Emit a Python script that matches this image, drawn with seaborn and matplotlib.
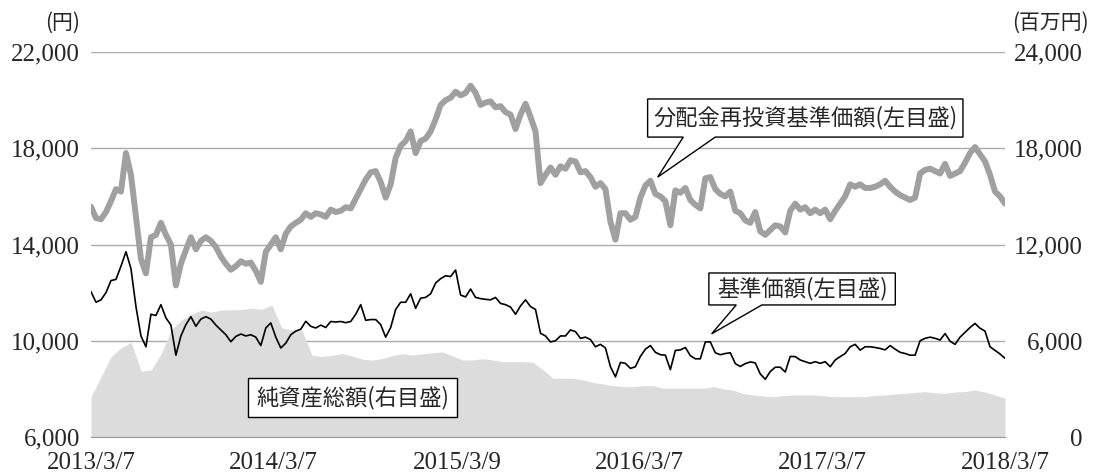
import matplotlib
matplotlib.use("Agg")
import matplotlib.pyplot as plt
from matplotlib.patches import Polygon
from matplotlib.ticker import FuncFormatter
import pandas as pd
import seaborn as sns

sns.set_style("white")
plt.rcParams["font.family"] = ["Liberation Serif", "Noto Sans CJK JP"]
JP = ["Noto Sans CJK JP", "DejaVu Sans"]

# 期間・目盛
start, end = "2013-03-07", "2018-03-07"
tick_dates = ["2013-03-07", "2014-03-07", "2015-03-09", "2016-03-07", "2017-03-07", "2018-03-07"]
tick_labels = ["2013/3/7", "2014/3/7", "2015/3/9", "2016/3/7", "2017/3/7", "2018/3/7"]
left_ticks = [6000, 10000, 14000, 18000, 22000]
right_ticks = [0, 6000, 12000, 18000, 24000]

# 分配金再投資基準価額(円) 約10日ごと
reinvest_nav = [
    15570, 15100, 15050, 15350, 15800, 16300, 16200, 17800, 16900, 15150,
    13400, 12800, 14300, 14400, 14900, 14400, 14000, 12300, 13200, 13770,
    14300, 13800, 14150, 14300, 14150, 13900, 13500, 13200, 12950, 13100,
    13300, 13200, 13250, 12900, 12450, 13700, 14000, 14300, 13800, 14450,
    14750, 14900, 15030, 15300, 15150, 15300, 15250, 15150, 15450, 15350,
    15400, 15550, 15500, 15900, 16300, 16700, 17000, 17050, 16600, 15950,
    16500, 17600, 18100, 18300, 18700, 17800, 18300, 18400, 18700, 19200,
    19800, 20000, 20100, 20350, 20200, 20300, 20600, 20300, 19800, 19900,
    19950, 19700, 19750, 19500, 19400, 18800, 19400, 19850, 19300, 18700,
    16550, 16900, 17200, 16900, 17250, 17150, 17500, 17450, 17000, 17050,
    16800, 16400, 16550, 16300, 14950, 14200, 15300, 15300, 15030, 15150,
    15950, 16450, 16650, 16100, 16000, 15800, 14800, 16250, 16150, 16350,
    15850, 15650, 15500, 16750, 16800, 16300, 16100, 16000, 16200, 15400,
    15300, 15000, 14900, 15350, 14550, 14400, 14600, 14800, 14750, 14500,
    15400, 15700, 15450, 15550, 15300, 15450, 15300, 15450, 15050, 15400,
    15700, 16000, 16500, 16400, 16500, 16350, 16350, 16400, 16500, 16650,
    16400, 16200, 16050, 15950, 15850, 15950, 16950, 17100, 17150, 17050,
    16950, 17350, 16850, 16950, 17050, 17400, 17800, 18050, 17750, 17450,
    16900, 16200, 16000, 15700,
]

# 基準価額(円)
nav = [
    12040, 11600, 11700, 12000, 12500, 12550, 13100, 13700, 13000, 11420,
    10200, 9750, 11100, 11050, 11500, 10950, 10650, 9400, 10200, 10670,
    11000, 10600, 10900, 11000, 10900, 10650, 10450, 10250, 9960, 10180,
    10280, 10200, 10250, 10150, 9800, 10530, 10740, 10150, 9700, 9900,
    10250, 10400, 10480, 10810, 10600, 10530, 10650, 10550, 10800, 10780,
    10800, 10750, 10800, 11100, 11500, 10850, 10880, 10880, 10670, 10150,
    10550, 11300, 11600, 11600, 11950, 11350, 11770, 11800, 11950, 12400,
    12580, 12700, 12670, 12940, 11900, 11820, 12150, 11800, 11750, 11720,
    11700, 11800, 11550, 11500, 11400, 11100, 11450, 11700, 11420, 11300,
    10310, 10200, 9950, 10000, 10200, 10200, 10450, 10380, 10100, 10150,
    10050, 9750, 9850, 9700, 8920, 8500, 9100, 9060, 8850, 8920,
    9350, 9650, 9800, 9520, 9420, 9400, 8800, 9600, 9620, 9720,
    9380, 9250, 9250, 9950, 9950, 9500, 9420, 9470, 9500, 9050,
    8930, 9050, 9120, 9080, 8620, 8400, 8720, 8900, 8900, 8700,
    9350, 9340, 9200, 9130, 9060, 9130, 9060, 9130, 8920, 9200,
    9340, 9470, 9750, 9850, 9610, 9750, 9750, 9720, 9680, 9620,
    9800, 9650, 9520, 9470, 9400, 9400, 10000, 10100, 10150, 10100,
    10030, 10300, 9980, 9850, 10150, 10350, 10550, 10720, 10520, 10400,
    9750, 9600, 9450, 9270,
]

# 純資産総額(百万円) 約20日ごと
net_assets = [
    2510, 3760, 5010, 5550, 5900, 4100, 4180, 5210, 6670, 7290,
    7650, 7920, 7780, 7920, 7920, 7950, 8020, 7950, 8230, 6800,
    6670, 6670, 5100, 5010, 5100, 5200, 5050, 4850, 4800, 4880,
    5080, 5200, 5110, 5180, 5250, 5300, 5050, 4800, 4800, 4880,
    4800, 4700, 4700, 4700, 4650, 4200, 3660, 3660, 3660, 3560,
    3400, 3300, 3200, 3140, 3140, 3200, 3200, 3040, 3040, 3040,
    3040, 3040, 3140, 3000, 2900, 2700, 2620, 2550, 2510, 2580,
    2620, 2620, 2620, 2560, 2510, 2510, 2520, 2510, 2580, 2620,
    2680, 2720, 2780, 2830, 2760, 2720, 2800, 2830, 2930, 2800,
    2620, 2410,
]

line_df = pd.DataFrame({
    "date": pd.date_range(start, end, periods=len(nav)),
    "reinvest": reinvest_nav,
    "nav": nav,
})
area_df = pd.DataFrame({
    "date": pd.date_range(start, end, periods=len(net_assets)),
    "assets": net_assets,
})

comma = FuncFormatter(lambda v, p: f"{v:,.0f}")

fig = plt.figure(figsize=(10.98, 4.75), dpi=100)
ax = fig.add_axes([91 / 1098, 38 / 475, 914 / 1098, 385 / 475])
ax2 = ax.twinx()

# 右目盛: 純資産総額
ax2.fill_between(area_df["date"], 0, area_df["assets"], color="#dcdcdc", lw=0)
ax2.set_ylim(0, 24000)
ax2.set_yticks(right_ticks)
ax2.yaxis.set_major_formatter(comma)
ax2.grid(axis="y", color="#aaaaaa", lw=1)
ax2.set_axisbelow(True)
ax2.tick_params(axis="y", length=0, pad=56, labelsize=18)
plt.setp(ax2.get_yticklabels(), ha="right")

# 左目盛: 基準価額
ax.set_zorder(ax2.get_zorder() + 1)
ax.patch.set_visible(False)
sns.lineplot(data=line_df, x="date", y="reinvest", ax=ax, color="#a0a0a0", lw=4.3)
sns.lineplot(data=line_df, x="date", y="nav", ax=ax, color="black", lw=1.2)
ax.set_ylim(6000, 22000)
ax.set_yticks(left_ticks)
ax.yaxis.set_major_formatter(comma)
ax.set_xlim(pd.Timestamp(start), pd.Timestamp(end))
ax.set_xticks(pd.to_datetime(tick_dates))
ax.set_xticklabels(tick_labels)
ax.tick_params(axis="x", direction="in", length=6, color="#999999", pad=11, labelsize=18)
ax.tick_params(axis="y", length=0, pad=8, labelsize=18)
ax.set_xlabel("")
ax.set_ylabel("")

for a in (ax, ax2):
    for s in a.spines.values():
        s.set_visible(False)
ax.spines["bottom"].set_visible(True)
ax.spines["bottom"].set_color("#999999")

ax.text(-0.012, 1.075, "(円)", transform=ax.transAxes, ha="right", va="center",
        fontsize=15, family=JP)
ax.text(1.0077, 1.075, "(百万円)", transform=ax.transAxes, ha="left", va="center",
        fontsize=15, family=JP)


def callout(text, box, base=None, tip=None):
    x0, y0, x1, y1 = box
    verts = [(x0, y0)]
    if base is not None:
        verts += [(base[0], y0), tip, (base[1], y0)]
    verts += [(x1, y0), (x1, y1), (x0, y1)]
    ax.add_patch(Polygon(verts, closed=True, transform=ax.transAxes, fc="white",
                         ec="black", lw=1, clip_on=False, zorder=5))
    ax.text((x0 + x1) / 2, (y0 + y1) / 2, text, transform=ax.transAxes,
            ha="center", va="center", fontsize=16, family=JP, zorder=6)


callout("分配金再投資基準価額(左目盛)", (0.609, 0.779, 0.954, 0.878),
        base=(0.648, 0.683), tip=(0.620, 0.675))
callout("基準価額(左目盛)", (0.676, 0.343, 0.880, 0.426),
        base=(0.706, 0.734), tip=(0.679, 0.268))
callout("純資産総額(右目盛)", (0.172, 0.052, 0.400, 0.153))

fig.savefig("out.png", dpi=100)
